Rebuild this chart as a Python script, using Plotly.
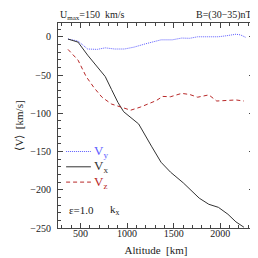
import plotly.graph_objects as go

# Data
alt_x = [365, 473, 576, 679, 765, 833, 902, 963, 1056, 1124, 1261, 1364, 1466, 1603, 1774, 1877, 1980, 2082, 2168, 2254]
vx = [-3, -7, -24, -39, -52, -69, -86, -98, -107, -114, -143, -164, -177, -191, -211, -219, -223, -232, -242, -249]

alt_y = [365, 473, 576, 679, 765, 867, 970, 1073, 1192, 1261, 1364, 1484, 1586, 1672, 1757, 1877, 1980, 2065, 2168, 2216, 2277]
vy = [-3, -5.6, -16, -16.5, -14.5, -16, -16, -13.6, -9.4, -7, -4, -4, -1.7, -2, 0, 0, 0, 1.3, 3.3, 2.5, -1]

alt_z = [365, 473, 560, 645, 730, 833, 936, 1038, 1141, 1261, 1312, 1381, 1466, 1586, 1672, 1757, 1877, 1962, 2065, 2168, 2254]
vz = [-16.5, -30.5, -52, -66.6, -79, -88, -92, -96, -92, -86, -83.5, -78, -78.4, -74, -75.5, -79, -76, -84, -83, -82.6, -84]

leg_x = [345, 611]
leg_y = [-150, -170, -190]
leg_labels = ["V<sub>y</sub>", "V<sub>x</sub>", "V<sub>z</sub>"]

c_blue = "#5c5cff"
c_black = "#333333"
c_red = "#b82828"
FONT = "Liberation Serif"

fig = go.Figure()
fig.add_trace(go.Scatter(x=alt_y, y=vy, mode="lines", line=dict(color=c_blue, width=1, dash="1px,1px"), showlegend=False))
fig.add_trace(go.Scatter(x=alt_x, y=vx, mode="lines", line=dict(color=c_black, width=1), showlegend=False))
fig.add_trace(go.Scatter(x=alt_z, y=vz, mode="lines", line=dict(color=c_red, width=1, dash="4px,3px"), showlegend=False))

styles = [(c_blue, "1px,1px"), (c_black, "solid"), (c_red, "4px,3px")]
for yv, lab, (col, dash) in zip(leg_y, leg_labels, styles):
    fig.add_trace(go.Scatter(x=leg_x, y=[yv, yv], mode="lines", line=dict(color=col, width=1, dash=dash), showlegend=False))
    fig.add_annotation(x=leg_x[1] + 15, y=yv, text=lab, showarrow=False, xanchor="left", yanchor="middle",
                       font=dict(family=FONT, size=13, color=col))

fig.add_annotation(x=350, y=-227, text="ε=1.0", showarrow=False, xanchor="left", yanchor="middle",
                   font=dict(family=FONT, size=11, color="#222"))
fig.add_annotation(x=790, y=-227, text="k<sub>x</sub>", showarrow=False, xanchor="left", yanchor="middle",
                   font=dict(family=FONT, size=11, color="#222"))

fig.add_annotation(xref="paper", yref="paper", x=0.0, y=1.037, text="U<sub>max</sub>=150  km/s", showarrow=False,
                   xanchor="left", yanchor="middle", font=dict(family=FONT, size=10, color="#222"))
fig.add_annotation(xref="paper", yref="paper", x=1.0, y=1.037, text="B=(30−35)nT", showarrow=False,
                   xanchor="right", yanchor="middle", font=dict(family=FONT, size=10, color="#222"))

axis_common = dict(showline=True, linecolor="#444", linewidth=1, mirror="allticks", ticks="inside",
                   tickcolor="#444", ticklen=5, showgrid=False, zeroline=False,
                   tickfont=dict(family=FONT, size=10, color="#222"))

fig.update_xaxes(range=[258, 2362], tickvals=[500, 1000, 1500, 2000],
                 minor=dict(ticks="inside", dtick=100, tick0=0, ticklen=3, tickcolor="#444", showgrid=False),
                 title=dict(text="Altitude  [km]", font=dict(family=FONT, size=11, color="#222"), standoff=8),
                 ticklabelstandoff=-4,
                 **axis_common)
fig.update_yaxes(range=[-250, 18], tickvals=[0, -50, -100, -150, -200, -250],
                 ticktext=["0", "−50", "−100", "−150", "−200", "−250"],
                 minor=dict(ticks="inside", dtick=10, tick0=0, ticklen=3, tickcolor="#444", showgrid=False),
                 title=dict(text="⟨V⟩  [km/s]", font=dict(family=FONT, size=11, color="#222"), standoff=4),
                 ticklabelstandoff=4,
                 **axis_common)

fig.update_layout(width=258, height=258, margin=dict(l=43, r=11, t=15, b=32),
                  plot_bgcolor="white", paper_bgcolor="white", showlegend=False)

fig.write_html("out.html")
